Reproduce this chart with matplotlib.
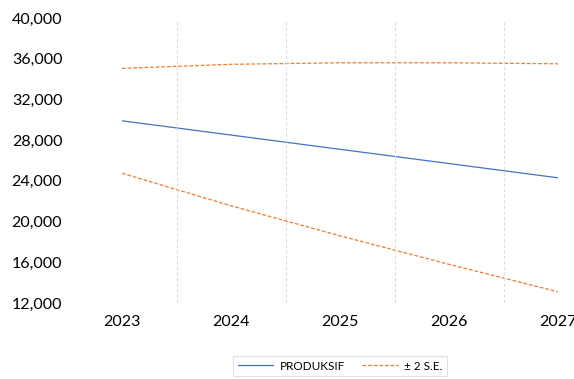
import matplotlib.pyplot as plt
from matplotlib.ticker import FuncFormatter

years = ['2023', '2024', '2025', '2026', '2027']
produksif = [29900, 28500, 27100, 25700, 24300]
upper_se = [35050, 35450, 35600, 35600, 35500]
lower_se = [24750, 21550, 18600, 15800, 13100]

plt.rcParams['font.family'] = ['Lato', 'DejaVu Sans']

fig = plt.figure(figsize=(5.74, 3.79), dpi=100)
ax = fig.add_axes([122 / 574, 1 - 303 / 379, 436 / 574, 285 / 379])

x = range(len(years))
ax.plot(x, produksif, color='#4472C4', linewidth=0.9, label='PRODUKSIF')
ax.plot(x, upper_se, color='#ED7D31', linewidth=0.9, linestyle=(0, (3, 1.5)), label='± 2 S.E.')
ax.plot(x, lower_se, color='#ED7D31', linewidth=0.9, linestyle=(0, (3, 1.5)))

# category boundaries as light dashed gridlines
for b in [0.5, 1.5, 2.5, 3.5]:
    ax.axvline(b, ymax=0.993, color='#DDDDDD', linewidth=0.8, linestyle=(0, (3, 2)))

ax.set_xlim(0, 4)
ax.set_ylim(12000, 40000)
ax.set_yticks(range(12000, 40001, 4000))
ax.yaxis.set_major_formatter(FuncFormatter(lambda v, p: f'{int(v):,}'))
ax.set_xticks(list(x))
ax.set_xticklabels(years)
ax.tick_params(axis='both', length=0, labelsize=11.5, colors='black')
ax.tick_params(axis='y', pad=43)
ax.tick_params(axis='x', pad=9)
for s in ax.spines.values():
    s.set_visible(False)

leg = fig.legend(loc='center', bbox_to_anchor=(340 / 574, 1 - 366 / 379), ncol=2,
                 fontsize=8.5, frameon=True, fancybox=False, edgecolor='#D9D9D9',
                 handlelength=3.0, handletextpad=0.5, columnspacing=1.5)
leg.get_frame().set_linewidth(0.8)

fig.savefig('out.png', dpi=100)
